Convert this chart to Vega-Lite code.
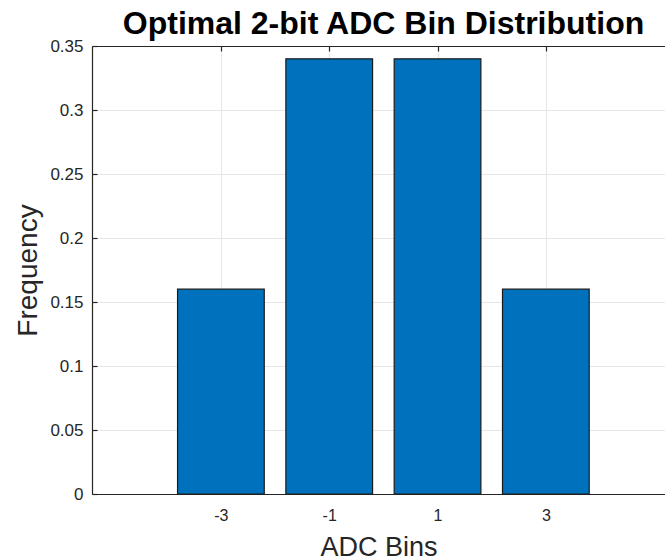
{
  "$schema": "https://vega.github.io/schema/vega-lite/v6.json",
  "autosize": {"type": "none"},
  "padding": {"left": 92, "top": 46, "right": 0, "bottom": 66},
  "width": 573,
  "height": 448,
  "background": "white",
  "config": {
    "view": {"stroke": null},
    "font": "Liberation Sans",
    "axis": {
      "domainColor": "#262626",
      "tickColor": "#262626",
      "labelColor": "#262626",
      "titleColor": "#262626",
      "labelFont": "Liberation Sans",
      "titleFont": "Liberation Sans",
      "labelFontSize": 16,
      "titleFontSize": 28,
      "titleFontWeight": "normal",
      "gridColor": "#e6e6e6",
      "gridWidth": 1,
      "domainWidth": 1.2,
      "tickWidth": 1.2
    }
  },
  "title": {
    "text": "Optimal 2-bit ADC Bin Distribution",
    "font": "Liberation Sans",
    "fontSize": 32,
    "fontWeight": "bold",
    "color": "#000000",
    "anchor": "middle",
    "offset": 8,
    "dx": 5,
    "dy": 12
  },
  "data": {
    "values": [
      {"bin": -3, "freq": 0.16},
      {"bin": -1, "freq": 0.34},
      {"bin": 1, "freq": 0.34},
      {"bin": 3, "freq": 0.16}
    ]
  },
  "layer": [
    {
      "mark": {"type": "bar", "width": 86.7, "color": "#0072BD", "stroke": "#1a1a1a", "strokeWidth": 1.2},
      "encoding": {
        "x": {
          "field": "bin",
          "type": "quantitative",
          "scale": {"domain": [-5.38, 5.2], "nice": false, "zero": false, "padding": 0},
          "axis": {
            "title": "ADC Bins",
            "values": [-3, -1, 1, 3],
            "labelExpr": "'' + datum.value",
            "tickSize": -5,
            "labelPadding": 18,
            "titleBaseline": "alphabetic",
            "titleY": 61,
            "titleFontSize": 27,
            "grid": true,
            "orient": "bottom"
          }
        },
        "y": {
          "field": "freq",
          "type": "quantitative",
          "scale": {"domain": [0, 0.35], "nice": false, "padding": 0},
          "axis": {
            "title": "Frequency",
            "values": [0, 0.05, 0.1, 0.15, 0.2, 0.25, 0.3, 0.35],
            "format": "~g",
            "tickSize": -5,
            "labelPadding": 14,
            "labelFontSize": 17,
            "titlePadding": 7,
            "grid": true
          }
        }
      }
    },
    {
      "mark": {"type": "point", "opacity": 0},
      "encoding": {
        "x": {
          "field": "bin",
          "type": "quantitative",
          "axis": {
            "orient": "top",
            "title": null,
            "labels": false,
            "grid": false,
            "values": [-3, -1, 1, 3],
            "tickSize": -5
          }
        },
        "y": {"field": "freq", "type": "quantitative"}
      }
    }
  ],
  "resolve": {"axis": {"x": "independent"}}
}
